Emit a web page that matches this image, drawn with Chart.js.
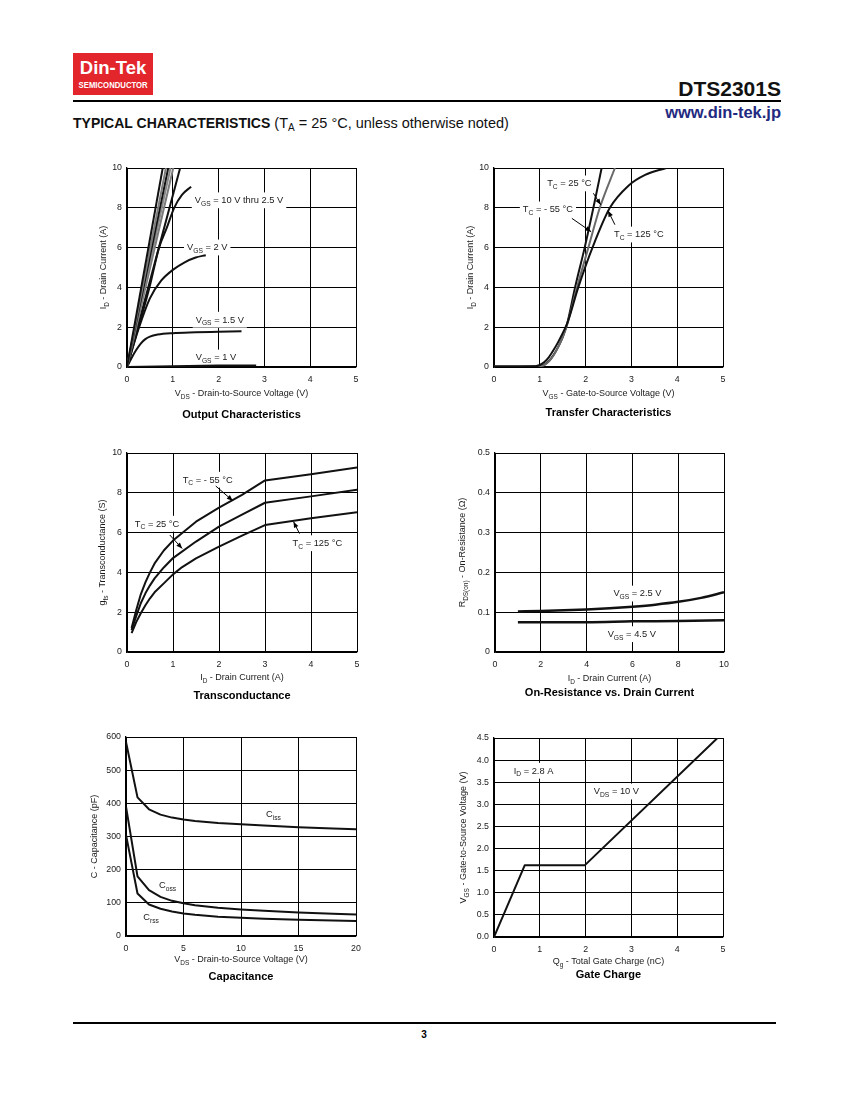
<!DOCTYPE html>
<html>
<head>
<meta charset="utf-8">
<script src="https://cdn.jsdelivr.net/npm/chart.js@4.4.1/dist/chart.umd.min.js"></script>
<style>
  body { margin: 0; background: #fff; font-family: "Liberation Sans", Arial, Helvetica, sans-serif; }
  #page { position: relative; width: 850px; height: 1100px; overflow: hidden; }
  .abs { position: absolute; white-space: nowrap; }
  canvas { position: absolute; }
</style>
</head>
<body>
<div id="page">
  <div class="abs" style="left:73px;top:53px;width:80px;height:42px;background:#e2262c;color:#fff;text-align:center;">
    <div style="font-weight:bold;font-size:18.5px;line-height:18px;margin-top:6px;">Din-Tek</div>
    <div style="font-weight:bold;font-size:9px;line-height:9px;margin-top:4px;transform:scaleX(0.86);transform-origin:center;">SEMICONDUCTOR</div>
  </div>
  <div class="abs" style="right:69px;top:77px;font-weight:bold;font-size:21px;line-height:24px;color:#111;">DTS2301S</div>
  <div class="abs" style="left:73px;top:100px;width:708px;height:2px;background:#000;"></div>
  <div class="abs" style="right:69px;top:103px;font-weight:bold;font-size:16.5px;line-height:18px;color:#1f2a80;">www.din-tek.jp</div>
  <div class="abs" style="left:73px;top:115px;font-size:14.5px;line-height:16px;color:#111;">
    <b style="font-size:14px;">TYPICAL CHARACTERISTICS</b> (T<span style="font-size:10px;position:relative;top:3px;">A</span> = 25 °C, unless otherwise noted)
  </div>
  <div class="abs" style="left:73px;top:1022px;width:703px;height:1.5px;background:#000;"></div>
  <div class="abs" style="left:414px;top:1029px;width:20px;text-align:center;font-weight:bold;font-size:10px;line-height:12px;">3</div>
</div>

<script>
// ---- Output Characteristics (VDS in V, ID in A) ----
const outSteepEndV = [0.78, 0.85, 0.90, 0.95, 1.01, 1.16];   // VGS = 10 V .. 3 V, reach 10 A
const out25V_x = [0, 0.25, 0.49, 0.70, 0.87, 1.03, 1.20, 1.40];
const out25V_y = [0, 2.0, 4.0, 6.0, 7.0, 8.0, 8.65, 9.06];
const out2V_x = [0, 0.25, 0.5, 0.75, 1.0, 1.25, 1.5, 1.72];
const out2V_y = [0, 1.9, 3.45, 4.35, 4.88, 5.25, 5.5, 5.62];
const out15V_x = [0, 0.1, 0.2, 0.3, 0.4, 0.5, 0.67, 1.0, 1.5, 2.0, 2.5];
const out15V_y = [0, 0.45, 0.85, 1.18, 1.4, 1.53, 1.63, 1.7, 1.74, 1.77, 1.8];
const out1V_x = [0, 1.0, 2.0, 2.82];
const out1V_y = [0, 0.04, 0.07, 0.08];

// ---- Transfer Characteristics (VGS in V, ID in A) ----
const trM55_x = [0, 0.95, 1.1, 1.2, 1.3, 1.4, 1.5, 1.6, 1.77, 1.98, 2.17, 2.35];
const trM55_y = [0.03, 0.03, 0.12, 0.3, 0.6, 1.0, 1.5, 2.2, 4.0, 6.0, 8.0, 10.0];
const tr25_x = [0, 0.95, 1.1, 1.2, 1.3, 1.4, 1.5, 1.6, 1.8, 2.06, 2.31, 2.64];
const tr25_y = [0.03, 0.03, 0.1, 0.28, 0.58, 1.0, 1.5, 2.15, 3.9, 6.0, 8.0, 10.0];
const tr125_x = [0, 0.9, 1.0, 1.1, 1.2, 1.3, 1.4, 1.5, 1.6, 1.84, 2.15, 2.53, 2.93, 3.3, 3.76];
const tr125_y = [0.03, 0.04, 0.1, 0.25, 0.5, 0.85, 1.25, 1.7, 2.2, 4.0, 6.0, 8.0, 9.1, 9.65, 10.0];

// ---- Transconductance (ID in A, gfs in S) ----
const gfsM55_x = [0.1, 0.2, 0.3, 0.4, 0.5, 0.6, 0.8, 1.0, 1.5, 2.0, 2.5, 3.0, 4.0, 5.0];
const gfsM55_y = [1.2, 2.1, 2.9, 3.5, 4.0, 4.45, 5.1, 5.6, 6.55, 7.25, 7.9, 8.62, 8.93, 9.27];
const gfs25_x = [0.1, 0.2, 0.3, 0.4, 0.5, 0.6, 0.8, 1.0, 1.5, 2.0, 2.5, 3.0, 4.0, 5.0];
const gfs25_y = [1.1, 1.8, 2.45, 2.95, 3.35, 3.7, 4.25, 4.72, 5.55, 6.3, 6.9, 7.5, 7.82, 8.16];
const gfs125_x = [0.1, 0.2, 0.3, 0.4, 0.5, 0.6, 0.8, 1.0, 1.2, 1.5, 2.0, 2.5, 3.0, 4.0, 5.0];
const gfs125_y = [0.95, 1.5, 1.95, 2.35, 2.7, 3.0, 3.45, 3.9, 4.27, 4.7, 5.3, 5.85, 6.38, 6.72, 7.02];

// ---- On-Resistance vs. Drain Current (ID in A, RDS(on) in ohm) ----
const ron25_x = [1, 2, 3, 4, 5, 6, 7, 8, 9, 10];
const ron25_y = [0.102, 0.103, 0.105, 0.107, 0.110, 0.114, 0.119, 0.126, 0.136, 0.150];
const ron45_x = [1, 2, 4, 6, 8, 10];
const ron45_y = [0.075, 0.075, 0.075, 0.077, 0.078, 0.080];

// ---- Capacitance (VDS in V, C in pF) ----
const capV = [0, 1, 2, 3, 4, 5, 6, 8, 10, 12, 15, 18, 20];
const ciss = [585, 418, 382, 366, 357, 351, 347, 341, 337, 333, 328, 324, 322];
const coss = [390, 180, 138, 118, 106, 99, 93, 85, 80, 76, 71, 67, 65];
const crss = [305, 128, 95, 82, 74, 68, 64, 58, 55, 52, 49, 47, 45];

// ---- Gate Charge (Qg in nC, VGS in V) ----
const gateQ = [0, 0.67, 1.98, 4.88];
const gateV = [0, 1.62, 1.62, 4.5];

const FONT = '"Liberation Sans", Arial, Helvetica, sans-serif';
const INK = '#1a1a1a';

function pts(xs, ys) { return xs.map((x, i) => ({ x, y: ys[i] })); }

function line(xs, ys, color, width, smooth) {
  return {
    data: pts(xs, ys),
    borderColor: color || '#111',
    borderWidth: width || 2,
    pointRadius: 0,
    fill: false,
    tension: 0,
    borderJoinStyle: 'round',
    cubicInterpolationMode: smooth === false ? 'default' : 'monotone',
  };
}

// text with _{sub} markup
function drawRich(ctx, text, x, y, size, opts = {}) {
  const parts = [];
  const re = /_\{([^}]*)\}/g;
  let last = 0, m;
  while ((m = re.exec(text))) {
    if (m.index > last) parts.push({ t: text.slice(last, m.index), sub: false });
    parts.push({ t: m[1], sub: true });
    last = re.lastIndex;
  }
  if (last < text.length) parts.push({ t: text.slice(last), sub: false });
  const weight = opts.bold ? 'bold ' : '';
  const subSize = size * 0.72;
  let w = 0;
  parts.forEach((p) => {
    ctx.font = weight + (p.sub ? subSize : size) + 'px ' + FONT;
    p.w = ctx.measureText(p.t).width;
    w += p.w;
  });
  let x0 = opts.align === 'center' ? x - w / 2 : x;
  if (opts.bg) {
    ctx.fillStyle = '#fff';
    ctx.fillRect(x0 - 3, y - size * 0.8, w + 6, size * 1.7);
  }
  ctx.fillStyle = opts.color || INK;
  ctx.textAlign = 'left';
  ctx.textBaseline = 'alphabetic';
  const base = y + size * 0.36;
  parts.forEach((p) => {
    ctx.font = weight + (p.sub ? subSize : size) + 'px ' + FONT;
    ctx.fillText(p.t, x0, p.sub ? base + size * 0.28 : base);
    x0 += p.w;
  });
}

function drawArrow(ctx, x1, y1, x2, y2) {
  ctx.save();
  ctx.strokeStyle = '#000';
  ctx.fillStyle = '#000';
  ctx.lineWidth = 1;
  ctx.beginPath(); ctx.moveTo(x1, y1); ctx.lineTo(x2, y2); ctx.stroke();
  const a = Math.atan2(y2 - y1, x2 - x1), L = 6, H = 2.4;
  ctx.beginPath();
  ctx.moveTo(x2, y2);
  ctx.lineTo(x2 - L * Math.cos(a) + H * Math.sin(a), y2 - L * Math.sin(a) - H * Math.cos(a));
  ctx.lineTo(x2 - L * Math.cos(a) - H * Math.sin(a), y2 - L * Math.sin(a) + H * Math.cos(a));
  ctx.closePath(); ctx.fill();
  ctx.restore();
}

const PAD_L = 50, PAD_T = 12, PAD_R = 16, PAD_B = 60;

function makeChart(spec) {
  const [L, T, R, B] = spec.plot;
  const cv = document.createElement('canvas');
  cv.width = R - L + PAD_L + PAD_R;
  cv.height = B - T + PAD_T + PAD_B;
  cv.style.left = (L - PAD_L) + 'px';
  cv.style.top = (T - PAD_T) + 'px';
  document.getElementById('page').appendChild(cv);

  const notes = {
    id: 'notes_' + spec.id,
    beforeDatasetsDraw(chart) {
      const { ctx, scales: { x, y } } = chart;
      ctx.save();
      (spec.notes || []).forEach((n) => {
        drawRich(ctx, n.text, x.getPixelForValue(n.x), y.getPixelForValue(n.y), 9.3, { bg: true, align: n.align });
      });
      ctx.restore();
    },
    afterDatasetsDraw(chart) {
      const { ctx, scales: { x, y } } = chart;
      (spec.arrows || []).forEach((a) => {
        drawArrow(ctx, x.getPixelForValue(a[0]), y.getPixelForValue(a[1]), x.getPixelForValue(a[2]), y.getPixelForValue(a[3]));
      });
    },
    afterDraw(chart) {
      const { ctx, chartArea: ca } = chart;
      ctx.save();
      const cx = (ca.left + ca.right) / 2;
      drawRich(ctx, spec.xTitle, cx, ca.bottom + spec.xTitleDy, 9, { align: 'center' });
      drawRich(ctx, spec.title, cx, ca.bottom + spec.titleDy, 11, { align: 'center', bold: true, color: '#000' });
      ctx.translate(spec.yTitleX - (L - PAD_L), (ca.top + ca.bottom) / 2);
      ctx.rotate(-Math.PI / 2);
      drawRich(ctx, spec.yTitle, 0, 0, 9, { align: 'center' });
      ctx.restore();
    },
  };

  const axis = (ax, isX) => ({
    type: 'linear',
    min: ax.min,
    max: ax.max,
    ticks: {
      stepSize: ax.step,
      autoSkip: false,
      padding: isX ? 7 : 5,
      color: INK,
      font: { family: FONT, size: 8.8 },
      callback: ax.fmt || ((v) => String(v)),
    },
    grid: { color: '#000', lineWidth: 1, drawTicks: false },
    border: { color: '#000', width: 1.3 },
    afterFit(s) { if (isX) s.height = PAD_B; else s.width = PAD_L; },
  });

  return new Chart(cv, {
    type: 'line',
    data: { datasets: spec.series },
    options: {
      responsive: false,
      animation: false,
      events: [],
      layout: { padding: { left: 0, top: PAD_T, right: PAD_R, bottom: 0 } },
      plugins: { legend: { display: false }, tooltip: { enabled: false } },
      scales: { x: axis(spec.x, true), y: axis(spec.y, false) },
    },
    plugins: [notes],
  });
}

const steepColors = ['#111', '#7a7a7a', '#111', '#8a8a8a', '#7a7a7a', '#111'];

makeChart({
  id: 'out', plot: [127, 168, 356, 367],
  x: { min: 0, max: 5, step: 1 }, y: { min: 0, max: 10, step: 2 },
  xTitle: 'V_{DS} - Drain-to-Source Voltage (V)', xTitleDy: 26,
  title: 'Output Characteristics', titleDy: 47,
  yTitle: 'I_{D} - Drain Current (A)', yTitleX: 103,
  series: [
    ...outSteepEndV.map((v, i) => line([0, v], [0, 10], steepColors[i], 2, false)),
    line(out25V_x, out25V_y),
    line(out2V_x, out2V_y),
    line(out15V_x, out15V_y),
    line(out1V_x, out1V_y),
  ],
  notes: [
    { text: 'V_{GS} = 10 V thru 2.5 V', x: 1.48, y: 8.4 },
    { text: 'V_{GS} = 2 V', x: 1.31, y: 6.03 },
    { text: 'V_{GS} = 1.5 V', x: 1.5, y: 2.4 },
    { text: 'V_{GS} = 1 V', x: 1.5, y: 0.5 },
  ],
});

makeChart({
  id: 'tr', plot: [494, 168, 723, 367],
  x: { min: 0, max: 5, step: 1 }, y: { min: 0, max: 10, step: 2 },
  xTitle: 'V_{GS} - Gate-to-Source Voltage (V)', xTitleDy: 26,
  title: 'Transfer Characteristics', titleDy: 45,
  yTitle: 'I_{D} - Drain Current (A)', yTitleX: 470,
  series: [
    line(tr125_x, tr125_y),
    line(tr25_x, tr25_y, '#6a6a6a'),
    line(trM55_x, trM55_y),
  ],
  notes: [
    { text: 'T_{C} = 25 °C', x: 1.16, y: 9.25 },
    { text: 'T_{C} = - 55 °C', x: 0.63, y: 7.94 },
    { text: 'T_{C} = 125 °C', x: 2.62, y: 6.68 },
  ],
  arrows: [
    [2.17, 8.73, 2.33, 8.15],
    [1.70, 7.47, 2.12, 6.8],
    [2.64, 7.15, 2.49, 7.85],
  ],
});

makeChart({
  id: 'gfs', plot: [127, 453, 357, 652],
  x: { min: 0, max: 5, step: 1 }, y: { min: 0, max: 10, step: 2 },
  xTitle: 'I_{D} - Drain Current (A)', xTitleDy: 25,
  title: 'Transconductance', titleDy: 43,
  yTitle: 'g_{fs} - Transconductance (S)', yTitleX: 102,
  series: [
    line(gfsM55_x, gfsM55_y, '#111', 2, false),
    line(gfs25_x, gfs25_y, '#111', 2, false),
    line(gfs125_x, gfs125_y, '#111', 2, false),
  ],
  notes: [
    { text: 'T_{C} = - 55 °C', x: 1.21, y: 8.68 },
    { text: 'T_{C} = 25 °C', x: 0.17, y: 6.47 },
    { text: 'T_{C} = 125 °C', x: 3.6, y: 5.49 },
  ],
  arrows: [
    [1.93, 8.34, 2.3, 7.6],
    [0.93, 5.88, 1.2, 5.2],
    [3.75, 5.95, 3.62, 6.55],
  ],
});

makeChart({
  id: 'ron', plot: [495, 453, 724, 652],
  x: { min: 0, max: 10, step: 2 }, y: { min: 0, max: 0.5, step: 0.1, fmt: (v) => (v === 0 ? '0' : v.toFixed(1)) },
  xTitle: 'I_{D} - Drain Current (A)', xTitleDy: 26,
  title: 'On-Resistance vs. Drain Current', titleDy: 40,
  yTitle: 'R_{DS(on)} - On-Resistance (Ω)', yTitleX: 462,
  series: [
    line(ron25_x, ron25_y, '#111', 2.5),
    line(ron45_x, ron45_y, '#111', 2.5),
  ],
  notes: [
    { text: 'V_{GS} = 2.5 V', x: 5.17, y: 0.148 },
    { text: 'V_{GS} = 4.5 V', x: 4.92, y: 0.046 },
  ],
});

makeChart({
  id: 'cap', plot: [126, 737, 356, 936],
  x: { min: 0, max: 20, step: 5 }, y: { min: 0, max: 600, step: 100 },
  xTitle: 'V_{DS} - Drain-to-Source Voltage (V)', xTitleDy: 23,
  title: 'Capacitance', titleDy: 40,
  yTitle: 'C - Capacitance (pF)', yTitleX: 94,
  series: [
    line(capV, ciss, '#111', 2, false),
    line(capV, coss, '#111', 2, false),
    line(capV, crss, '#111', 2, false),
  ],
  notes: [
    { text: 'C_{iss}', x: 12.17, y: 369 },
    { text: 'C_{oss}', x: 2.87, y: 155 },
    { text: 'C_{rss}', x: 1.5, y: 58 },
  ],
});

makeChart({
  id: 'gate', plot: [494, 738, 723, 937],
  x: { min: 0, max: 5, step: 1 }, y: { min: 0, max: 4.5, step: 0.5, fmt: (v) => v.toFixed(1) },
  xTitle: 'Q_{g} - Total Gate Charge (nC)', xTitleDy: 24,
  title: 'Gate Charge', titleDy: 37,
  yTitle: 'V_{GS} - Gate-to-Source Voltage (V)', yTitleX: 463,
  series: [
    line(gateQ, gateV, '#111', 2, false),
  ],
  notes: [
    { text: 'I_{D} = 2.8 A', x: 0.43, y: 3.77 },
    { text: 'V_{DS} = 10 V', x: 2.18, y: 3.30 },
  ],
});
</script>
</body>
</html>
